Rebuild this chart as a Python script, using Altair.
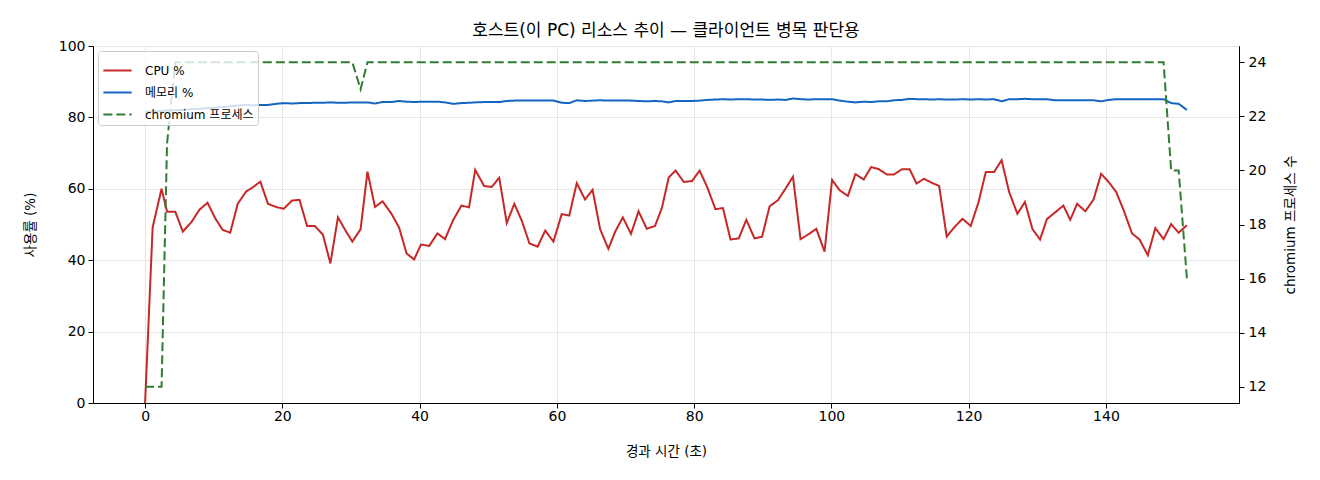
import altair as alt
import pandas as pd

# elapsed seconds of each sample
times = [
    0, 1.1, 2.4, 3.2, 4.4, 5.5, 6.8, 7.9, 9.1, 10.2,
    11.3, 12.4, 13.5, 14.7, 15.6, 16.8, 17.9, 19.1, 20.2, 21.4,
    22.5, 23.6, 24.7, 25.9, 27.0, 28.1, 29.3, 30.2, 31.4, 32.4,
    33.5, 34.6, 35.9, 37.0, 38.1, 39.2, 40.2, 41.4, 42.6, 43.7,
    44.9, 46.1, 47.2, 48.1, 49.4, 50.5, 51.6, 52.7, 53.8, 54.9,
    56.0, 57.2, 58.3, 59.5, 60.7, 61.8, 62.9, 64.1, 65.2, 66.3,
    67.5, 68.5, 69.6, 70.8, 71.9, 73.1, 74.3, 75.3, 76.3, 77.3,
    78.5, 79.7, 80.8, 81.9, 83.1, 84.2, 85.3, 86.5, 87.6, 88.8,
    89.9, 91.0, 92.2, 93.3, 94.4, 95.5, 96.7, 97.8, 99.0, 100.1,
    101.2, 102.4, 103.5, 104.7, 105.8, 106.9, 108.1, 109.1, 110.3, 111.4,
    112.4, 113.5, 114.6, 115.7, 116.8, 117.9, 119.1, 120.3, 121.4, 122.5,
    123.7, 124.8, 125.9, 127.1, 128.2, 129.3, 130.4, 131.4, 132.6, 133.8,
    134.8, 135.8, 137.0, 138.2, 139.3, 140.4, 141.5, 142.6, 143.8, 144.9,
    146.1, 147.2, 148.4, 149.5, 150.6, 151.8,
]

cpu = [
    0, 49.2, 60.0, 53.6, 53.6, 48.0, 50.8, 54.1, 56.1, 51.8,
    48.5, 47.7, 55.8, 59.2, 60.3, 62.0, 55.8, 54.9, 54.4, 56.7,
    56.9, 49.6, 49.6, 47.2, 39.1, 52.0, 48.0, 45.2, 48.7, 64.8,
    54.9, 56.5, 53.0, 49.2, 41.9, 40.2, 44.4, 44.0, 47.5, 45.9,
    51.3, 55.3, 54.8, 65.3, 60.8, 60.5, 63.1, 50.4, 55.8, 51.0,
    44.7, 43.8, 48.3, 45.2, 52.9, 52.5, 61.6, 57.0, 59.7, 48.7,
    43.2, 48.0, 52.0, 47.4, 53.7, 48.8, 49.6, 54.6, 63.2, 65.1,
    61.9, 62.2, 65.1, 60.5, 54.3, 54.6, 45.8, 46.1, 51.3, 46.1,
    46.6, 55.1, 56.8, 60.0, 63.4, 45.9, 47.3, 48.8, 42.4, 62.5,
    59.6, 58.0, 64.1, 62.6, 66.1, 65.5, 64.0, 64.0, 65.5, 65.5,
    61.5, 62.8, 61.7, 60.8, 46.6, 49.2, 51.6, 49.6, 56.0, 64.7,
    64.7, 68.0, 59.1, 53.0, 56.3, 48.7, 45.8, 51.5, 53.4, 55.3,
    51.3, 55.8, 53.7, 57.0, 64.2, 61.9, 59.1, 53.9, 47.5, 45.8,
    41.4, 49.0, 45.9, 50.1, 47.7, 49.8,
]

mem = [
    81.6, 81.7, 81.8, 81.9, 82.0, 82.1, 82.3, 82.4, 82.6, 82.7,
    82.9, 83.1, 83.3, 83.5, 83.4, 83.5, 83.5, 83.8, 84.0, 83.9,
    84.0, 84.0, 84.1, 84.1, 84.2, 84.1, 84.1, 84.2, 84.2, 84.2,
    83.9, 84.3, 84.3, 84.6, 84.4, 84.3, 84.4, 84.4, 84.4, 84.2,
    83.8, 84.0, 84.1, 84.2, 84.3, 84.3, 84.3, 84.6, 84.7, 84.7,
    84.7, 84.7, 84.7, 84.7, 84.1, 84.0, 84.8, 84.6, 84.7, 84.8,
    84.7, 84.7, 84.7, 84.7, 84.6, 84.5, 84.6, 84.5, 84.2, 84.6,
    84.6, 84.6, 84.7, 84.9, 85.0, 85.1, 85.0, 85.1, 85.1, 85.0,
    85.0, 84.9, 85.0, 84.9, 85.3, 85.1, 85.0, 85.1, 85.1, 85.1,
    84.7, 84.4, 84.2, 84.4, 84.3, 84.5, 84.5, 84.8, 84.9, 85.2,
    85.1, 85.1, 85.0, 85.1, 85.0, 85.0, 85.1, 85.0, 85.1, 85.0,
    85.1, 84.5, 85.1, 85.1, 85.2, 85.1, 85.1, 85.1, 84.8, 84.8,
    84.8, 84.8, 84.8, 84.8, 84.5, 84.9, 85.1, 85.1, 85.1, 85.1,
    85.1, 85.1, 85.1, 84.0, 83.8, 82.1,
]

chromium = [
    12, 12, 12, 21, 24, 24, 24, 24, 24, 24,
    24, 24, 24, 24, 24, 24, 24, 24, 24, 24,
    24, 24, 24, 24, 24, 24, 24, 24, 23, 24,
    24, 24, 24, 24, 24, 24, 24, 24, 24, 24,
    24, 24, 24, 24, 24, 24, 24, 24, 24, 24,
    24, 24, 24, 24, 24, 24, 24, 24, 24, 24,
    24, 24, 24, 24, 24, 24, 24, 24, 24, 24,
    24, 24, 24, 24, 24, 24, 24, 24, 24, 24,
    24, 24, 24, 24, 24, 24, 24, 24, 24, 24,
    24, 24, 24, 24, 24, 24, 24, 24, 24, 24,
    24, 24, 24, 24, 24, 24, 24, 24, 24, 24,
    24, 24, 24, 24, 24, 24, 24, 24, 24, 24,
    24, 24, 24, 24, 24, 24, 24, 24, 24, 24,
    24, 24, 24, 20, 20, 16,
]

series_names = ["CPU %", "메모리 %", "chromium 프로세스"]
series_colors = ["#c62828", "#1565c0", "#2e7d32"]
series_dash = [[1, 0], [1, 0], [9, 4]]

x_ticks = [0, 20, 40, 60, 80, 100, 120, 140]
left_ticks = [0, 20, 40, 60, 80, 100]
right_ticks = [12, 14, 16, 18, 20, 22, 24]

FONT = "DejaVu Sans, Noto Sans CJK KR"

pct_df = pd.concat([
    pd.DataFrame({"t": times, "v": cpu, "series": series_names[0], "o": 0}),
    pd.DataFrame({"t": times, "v": mem, "series": series_names[1], "o": 1}),
])
chrom_df = pd.DataFrame({"t": times, "v": chromium, "series": series_names[2], "o": 2})

x_enc = alt.X(
    "t:Q",
    scale=alt.Scale(domain=[-7.59, 159.39], nice=False, zero=False),
    axis=alt.Axis(values=x_ticks, title="경과 시간 (초)", grid=True,
                  labelPadding=1, titlePadding=21),
)

color_enc = alt.Color(
    "series:N",
    scale=alt.Scale(domain=series_names, range=series_colors),
    legend=alt.Legend(title=None),
)
dash_enc = alt.StrokeDash(
    "series:N",
    scale=alt.Scale(domain=series_names, range=series_dash),
    legend=alt.Legend(title=None),
)

pct = alt.Chart(pct_df).mark_line(strokeWidth=2).encode(
    x=x_enc,
    y=alt.Y(
        "v:Q",
        scale=alt.Scale(domain=[0, 100], nice=False),
        axis=alt.Axis(values=left_ticks, title="사용률 (%)", grid=True, orient="left",
                      labelPadding=3, titlePadding=21),
    ),
    color=color_enc,
    strokeDash=dash_enc,
    order=alt.Order("o:Q"),
)

chrom = alt.Chart(chrom_df).mark_line(strokeWidth=2).encode(
    x=x_enc,
    y=alt.Y(
        "v:Q",
        scale=alt.Scale(domain=[11.4, 24.6], nice=False, zero=False),
        axis=alt.Axis(values=right_ticks, title="chromium 프로세스 수", grid=False, orient="right",
                      labelPadding=4, titlePadding=32, titleAngle=270),
    ),
    color=color_enc,
    strokeDash=dash_enc,
)

chart = (
    alt.layer(pct, chrom)
    .resolve_scale(y="independent")
    .properties(
        width=1146,
        height=357,
        autosize=alt.AutoSizeParams(type="none"),
        padding={"left": 85, "top": 38, "right": 73, "bottom": 69},
        title=alt.TitleParams(
            "호스트(이 PC) 리소스 추이 — 클라이언트 병목 판단용",
            font=FONT, fontSize=17, fontWeight="normal", color="#000", anchor="middle", offset=-1,
        ),
    )
    .configure_view(stroke="#000", strokeWidth=1)
    .configure_axis(
        labelFont=FONT, titleFont=FONT, labelFontSize=14, titleFontSize=13.5,
        labelColor="#000", titleColor="#000", titleFontWeight="normal",
        domainColor="#000", tickColor="#000", tickSize=5,
        gridColor="#e6e6e6", gridWidth=1,
    )
    .configure_legend(
        orient="top-left", offset=5, labelFont=FONT, labelFontSize=12, labelColor="#000",
        symbolType="stroke", symbolSize=800, symbolStrokeWidth=2,
        fillColor="rgba(255,255,255,0.8)", strokeColor="#cccccc", cornerRadius=3,
        padding=4, rowPadding=0, labelOffset=12,
    )
)

chart.save("out.html", embed_options={"renderer": "svg", "actions": False})
